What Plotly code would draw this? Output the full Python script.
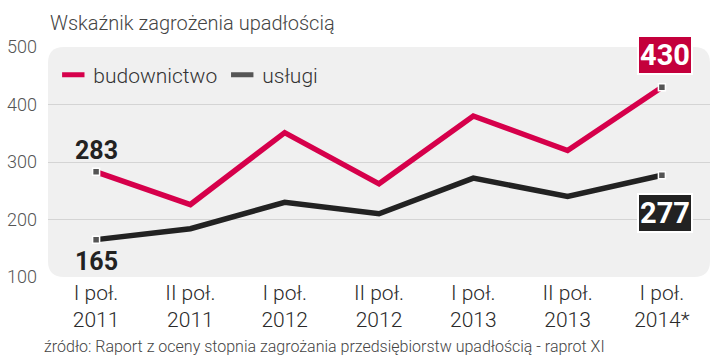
import plotly.graph_objects as go

periods = ["I poł.", "II poł.", "I poł.", "II poł.", "I poł.", "II poł.", "I poł."]
years = ["2011", "2011", "2012", "2012", "2013", "2013", "2014*"]
budownictwo = [283, 226, 351, 262, 380, 320, 430]
uslugi = [165, 184, 230, 210, 272, 240, 277]
y_ticks = [100, 200, 300, 400, 500]

x = list(range(len(periods)))
tick_text = [f"{p}<br>{y}" for p, y in zip(periods, years)]

RED = "#d6004b"
BOX_RED = "#c4003c"
BLACK = "#222222"
NUM_FONT = "Roboto, Liberation Sans, sans-serif"
TXT_FONT = "Roboto, Lato, sans-serif"

fig = go.Figure()

fig.add_trace(go.Scatter(x=x, y=budownictwo, mode="lines",
                         line=dict(color=RED, width=5.5), showlegend=False, hoverinfo="skip"))
fig.add_trace(go.Scatter(x=x, y=uslugi, mode="lines",
                         line=dict(color=BLACK, width=5.5), showlegend=False, hoverinfo="skip"))
for ser in (budownictwo, uslugi):
    fig.add_trace(go.Scatter(x=[x[0], x[-1]], y=[ser[0], ser[-1]], mode="markers",
                             marker=dict(symbol="square", size=7, color="#555555",
                                         line=dict(color="white", width=1.5)),
                             showlegend=False, hoverinfo="skip"))

# legend entries
fig.add_trace(go.Scatter(x=[None], y=[None], mode="markers", name="budownictwo",
                         marker=dict(symbol="line-ew", size=18, color=RED,
                                     line=dict(color=RED, width=6))))
fig.add_trace(go.Scatter(x=[None], y=[None], mode="markers", name="usługi",
                         marker=dict(symbol="line-ew", size=18, color="#555555",
                                     line=dict(color="#555555", width=6))))

# value labels
fig.add_annotation(x=x[0], y=budownictwo[0], text=f"<b>{budownictwo[0]}</b>",
                   showarrow=False, yshift=21, font=dict(family=NUM_FONT, size=25, color=BLACK))
fig.add_annotation(x=x[0], y=uslugi[0], text=f"<b>{uslugi[0]}</b>",
                   showarrow=False, yshift=-22, font=dict(family=NUM_FONT, size=25, color=BLACK))
fig.add_annotation(x=x[-1], y=budownictwo[-1], text=f"<b>{budownictwo[-1]}</b>",
                   showarrow=False, yshift=32, xshift=3,
                   font=dict(family=NUM_FONT, size=29, color="white"),
                   bgcolor=BOX_RED, bordercolor="white", borderwidth=2, borderpad=1)
fig.add_annotation(x=x[-1], y=uslugi[-1], text=f"<b>{uslugi[-1]}</b>",
                   showarrow=False, yshift=-38, xshift=3,
                   font=dict(family=NUM_FONT, size=29, color="white"),
                   bgcolor=BLACK, bordercolor="white", borderwidth=2, borderpad=1)

# footer
fig.add_annotation(xref="paper", yref="paper", x=-0.009, y=(277 - 358) / 230.0,
                   xanchor="left", yanchor="bottom",
                   text="źródło: Raport z oceny stopnia zagrożania przedsiębiorstw upadłością - raprot XI",
                   showarrow=False, font=dict(family=TXT_FONT, size=16, color="#444444", weight=300))

# rounded panel background
W, H = 662.0, 230.0
rx, ry = 16 / W, 16 / H
path = (f"M {rx},0 L {1-rx},0 Q 1,0 1,{ry} L 1,{1-ry} Q 1,1 {1-rx},1 "
        f"L {rx},1 Q 0,1 0,{1-ry} L 0,{ry} Q 0,0 {rx},0 Z")
fig.add_shape(type="path", xref="paper", yref="paper", path=path,
              fillcolor="#f0f0f0", line=dict(width=0), layer="below")

fig.update_layout(
    width=720, height=355,
    margin=dict(l=48, r=10, t=47, b=78),
    paper_bgcolor="white", plot_bgcolor="rgba(0,0,0,0)",
    title=dict(text="Wskaźnik zagrożenia upadłością", x=50 / 720, xanchor="left",
               y=1 - 23 / 355, yanchor="middle",
               font=dict(family=TXT_FONT, size=20, color="#444444", weight=300)),
    legend=dict(orientation="h", x=0.008, y=(277 - 75) / 230.0, xanchor="left", yanchor="middle",
                bgcolor="rgba(0,0,0,0)",
                font=dict(family=TXT_FONT, size=21, color="#333333", weight=300),
                itemwidth=30, tracegroupgap=0),
    xaxis=dict(range=[-0.51, 6.51], tickvals=x, ticktext=tick_text, showgrid=False, zeroline=False,
               showline=False, ticks="",
               tickfont=dict(family=TXT_FONT, size=21, color="#2a2a2a", weight=300),
               ticklabelstandoff=1, automargin=False),
    yaxis=dict(range=[100, 500], tickvals=y_ticks, showgrid=True, gridcolor="#d4d4d4",
               gridwidth=1, zeroline=False, showline=False, ticks="",
               tickfont=dict(family=TXT_FONT, size=18, color="#555555", weight=300),
               ticklabelstandoff=10, automargin=False),
    showlegend=True,
)

fig.write_html("out.html", config={"displayModeBar": False},
               post_script="document.body.style.margin='0';")
